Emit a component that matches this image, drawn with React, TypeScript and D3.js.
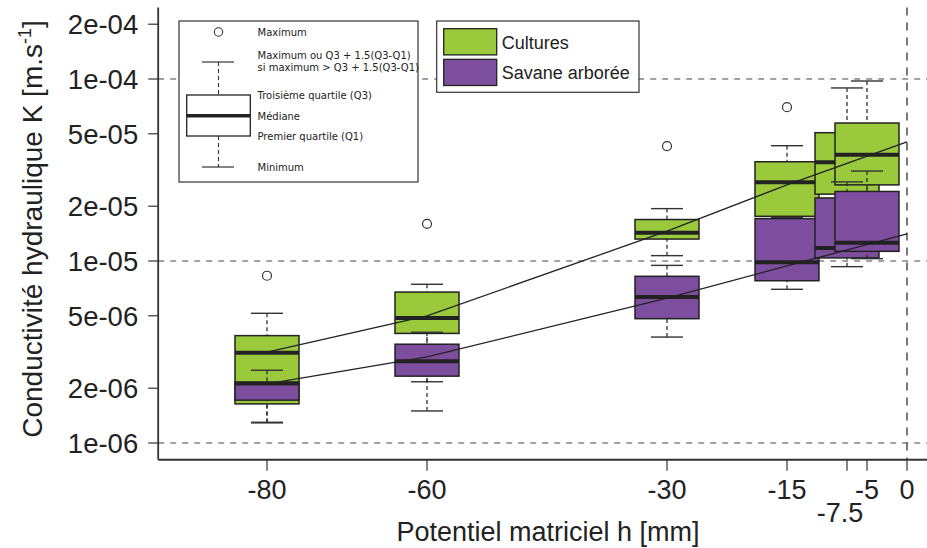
import React from 'react';
import * as d3 from 'd3';

// Suction levels (x positions of the boxes)
const hLevels = [-80, -60, -30, -15, -7.5, -5];

// Cultures (green) box statistics
const culturesMin = [1.29e-6, 1.5e-6, 1.07e-5, 1.74e-5, 2.0e-5, 2.2e-5];
const culturesQ1 = [1.64e-6, 4.0e-6, 1.32e-5, 1.76e-5, 2.33e-5, 2.62e-5];
const culturesMed = [3.13e-6, 4.86e-6, 1.43e-5, 2.71e-5, 3.49e-5, 3.84e-5];
const culturesQ3 = [3.89e-6, 6.75e-6, 1.69e-5, 3.51e-5, 5.07e-5, 5.73e-5];
const culturesMax = [5.16e-6, 7.45e-6, 1.94e-5, 4.3e-5, 8.93e-5, 9.75e-5];
const culturesOut = [8.3e-6, 1.6e-5, 4.28e-5, 7.0e-5, null, null];

// Savane arborée (purple) box statistics
const savaneMin = [1.3e-6, 2.17e-6, 3.82e-6, 6.99e-6, 9.31e-6, 1.03e-5];
const savaneQ1 = [1.72e-6, 2.33e-6, 4.82e-6, 7.79e-6, 1.04e-5, 1.13e-5];
const savaneMed = [2.12e-6, 2.81e-6, 6.34e-6, 9.84e-6, 1.18e-5, 1.26e-5];
const savaneQ3 = [2.16e-6, 3.49e-6, 8.24e-6, 1.71e-5, 2.22e-5, 2.41e-5];
const savaneMax = [2.51e-6, 4.06e-6, 9.46e-6, 1.74e-5, 2.72e-5, 3.12e-5];
const savaneOut: (number | null)[] = [null, null, null, null, null, null];

// Fitted trend lines
const trendH = [-80, -60, -30, -15, 0];
const culturesTrend = [3.16e-6, 4.99e-6, 1.46e-5, 2.62e-5, 4.51e-5];
const savaneTrend = [2.11e-6, 2.97e-6, 6.26e-6, 9.39e-6, 1.41e-5];

// Axes
const yTicks = [1e-6, 2e-6, 5e-6, 1e-5, 2e-5, 5e-5, 1e-4, 2e-4];
const yTickLabels = ['1e-06', '2e-06', '5e-06', '1e-05', '2e-05', '5e-05', '1e-04', '2e-04'];
const xTicks = [-80, -60, -30, -15, -7.5, -5, 0];
const xTickLabels = ['-80', '-60', '-30', '-15', '-7.5', '-5', '0'];
const gridK = [1e-6, 1e-5, 1e-4];
const gridH = [0];

const seriesNames = ['Cultures', 'Savane arborée'];
const seriesColors = ['#9BC93C', '#7C4E9D'];
const legendBoxLabels = [
  'Maximum',
  'Maximum ou Q3 + 1.5(Q3-Q1)',
  'si maximum > Q3 + 1.5(Q3-Q1)',
  'Troisième quartile (Q3)',
  'Médiane',
  'Premier quartile (Q1)',
  'Minimum',
];

const FONT = '"Liberation Sans", Arial, Helvetica, sans-serif';
const INK = '#222';

export default function App() {
  const W = 927;
  const H = 548;
  const x = d3.scaleLinear().domain([-93.6, 3.6]).range([158.2, 935.8]);
  const y = d3.scaleLog().domain([1e-6, 1e-4]).range([443, 79]);
  const ext = Math.pow(10, 0.04 * Math.log10(2e-4 / 1e-6));
  const yTop = y(2e-4 * ext);
  const yBot = y(1e-6 / ext);
  const xL = x(-93.6);
  const halfW = 4; // box half-width in h units
  const capW = 2;

  const series = [
    { min: culturesMin, q1: culturesQ1, med: culturesMed, q3: culturesQ3, max: culturesMax, out: culturesOut, color: seriesColors[0] },
    { min: savaneMin, q1: savaneQ1, med: savaneMed, q3: savaneQ3, max: savaneMax, out: savaneOut, color: seriesColors[1] },
  ];

  const line = d3.line<[number, number]>().x(d => x(d[0])).y(d => y(d[1]));

  return (
    <svg width={W} height={H} style={{ position: 'absolute', left: 0, top: 0, background: '#fff' }} fontFamily={FONT}>
      {/* grid */}
      {gridK.map((k, i) => (
        <line key={'gk' + i} x1={xL} x2={W} y1={y(k)} y2={y(k)} stroke="#444" strokeWidth={1.2} strokeDasharray="6,6" />
      ))}
      {gridH.map((h, i) => (
        <line key={'gh' + i} x1={x(h)} x2={x(h)} y1={yTop} y2={yBot} stroke="#333" strokeWidth={1.3} strokeDasharray="8,7" />
      ))}

      {/* boxes */}
      {series.map((s, si) => (
        <g key={'s' + si}>
          {hLevels.map((h, i) => {
            const cx = x(h);
            const x0 = x(h - halfW);
            const x1 = x(h + halfW);
            const c0 = x(h - capW);
            const c1 = x(h + capW);
            const o = s.out[i];
            return (
              <g key={'b' + i}>
                <rect x={x0} y={y(s.q3[i])} width={x1 - x0} height={y(s.q1[i]) - y(s.q3[i])} fill={s.color} />
                <line x1={x0} x2={x1} y1={y(s.med[i])} y2={y(s.med[i])} stroke={INK} strokeWidth={4} />
                <line x1={cx} x2={cx} y1={y(s.max[i])} y2={y(s.q3[i])} stroke={INK} strokeWidth={1.2} strokeDasharray="4,3" />
                <line x1={cx} x2={cx} y1={y(s.min[i])} y2={y(s.q1[i])} stroke={INK} strokeWidth={1.2} strokeDasharray="4,3" />
                <line x1={c0} x2={c1} y1={y(s.max[i])} y2={y(s.max[i])} stroke="#333" strokeWidth={1.4} />
                <line x1={c0} x2={c1} y1={y(s.min[i])} y2={y(s.min[i])} stroke="#333" strokeWidth={1.4} />
                <rect x={x0} y={y(s.q3[i])} width={x1 - x0} height={y(s.q1[i]) - y(s.q3[i])} fill="none" stroke={INK} strokeWidth={1.5} />
                {o != null && <circle cx={cx} cy={y(o)} r={4.5} fill="none" stroke="#333" strokeWidth={1.2} />}
              </g>
            );
          })}
        </g>
      ))}

      {/* trend lines */}
      <path d={line(trendH.map((h, i) => [h, culturesTrend[i]]) as any) || ''} fill="none" stroke={INK} strokeWidth={1.3} />
      <path d={line(trendH.map((h, i) => [h, savaneTrend[i]]) as any) || ''} fill="none" stroke={INK} strokeWidth={1.3} />

      {/* axes */}
      <line x1={xL} x2={xL} y1={yTop} y2={yBot} stroke="#333" strokeWidth={1.8} />
      <line x1={xL} x2={W} y1={yBot} y2={yBot} stroke="#333" strokeWidth={1.8} />
      {yTicks.map((t, i) => (
        <g key={'yt' + i}>
          <line x1={xL - 10} x2={xL} y1={y(t)} y2={y(t)} stroke="#333" strokeWidth={1.2} />
          <text x={xL - 20} y={y(t)} dy="0.36em" textAnchor="end" fontSize={27.5} fill={INK}>{yTickLabels[i]}</text>
        </g>
      ))}
      {xTicks.map((t, i) => {
        const second = xTickLabels[i] === '-7.5';
        return (
          <g key={'xt' + i}>
            <line x1={x(t)} x2={x(t)} y1={yBot} y2={yBot + 11} stroke="#333" strokeWidth={1.2} />
            <text x={x(t) - (second ? 7 : 0)} y={second ? 522 : 499} textAnchor="middle" fontSize={27} fill={INK}>{xTickLabels[i]}</text>
          </g>
        );
      })}
      <text x={548} y={541} textAnchor="middle" fontSize={27} fill={INK}>Potentiel matriciel h [mm]</text>
      <text transform="translate(42,229) rotate(-90)" textAnchor="middle" fontSize={28} fill={INK}>
        Conductivité hydraulique K [m.s<tspan dy={-11} fontSize={18}>-1</tspan><tspan dy={11}>]</tspan>
      </text>

      {/* boxplot explanation legend */}
      <g>
        <rect x={179} y={21} width={239} height={161} fill="#fff" stroke="#333" strokeWidth={1.2} />
        <circle cx={218.5} cy={32} r={4.2} fill="none" stroke="#333" strokeWidth={1.1} />
        <line x1={202} x2={234} y1={62} y2={62} stroke="#333" strokeWidth={1.2} />
        <line x1={218.5} x2={218.5} y1={62} y2={95} stroke="#333" strokeWidth={1.1} strokeDasharray="4,3" />
        <rect x={186.7} y={95} width={63.6} height={41} fill="#fff" stroke={INK} strokeWidth={1.3} />
        <line x1={186.7} x2={250.3} y1={115.7} y2={115.7} stroke={INK} strokeWidth={3.5} />
        <line x1={218.5} x2={218.5} y1={136} y2={167} stroke="#333" strokeWidth={1.1} strokeDasharray="4,3" />
        <line x1={202} x2={234} y1={167} y2={167} stroke="#333" strokeWidth={1.2} />
        {[32, 55, 67, 95, 116, 136, 167].map((ty, i) => (
          <text key={'lb' + i} x={257.5} y={ty} dy="0.36em" fontSize={10} fontFamily='"DejaVu Sans", sans-serif' fill={INK}>{legendBoxLabels[i]}</text>
        ))}
      </g>

      {/* series legend */}
      <g>
        <rect x={436.7} y={21} width={202.3} height={71.3} fill="#fff" stroke="#333" strokeWidth={1.2} />
        {seriesNames.map((n, i) => (
          <g key={'lg' + i}>
            <rect x={443.7} y={i === 0 ? 28.7 : 59.3} width={53} height={26.2} fill={seriesColors[i]} stroke={INK} strokeWidth={1.3} />
            <text x={501.7} y={i === 0 ? 42.3 : 72.7} dy="0.36em" fontSize={18} fill={INK}>{n}</text>
          </g>
        ))}
      </g>
    </svg>
  );
}
